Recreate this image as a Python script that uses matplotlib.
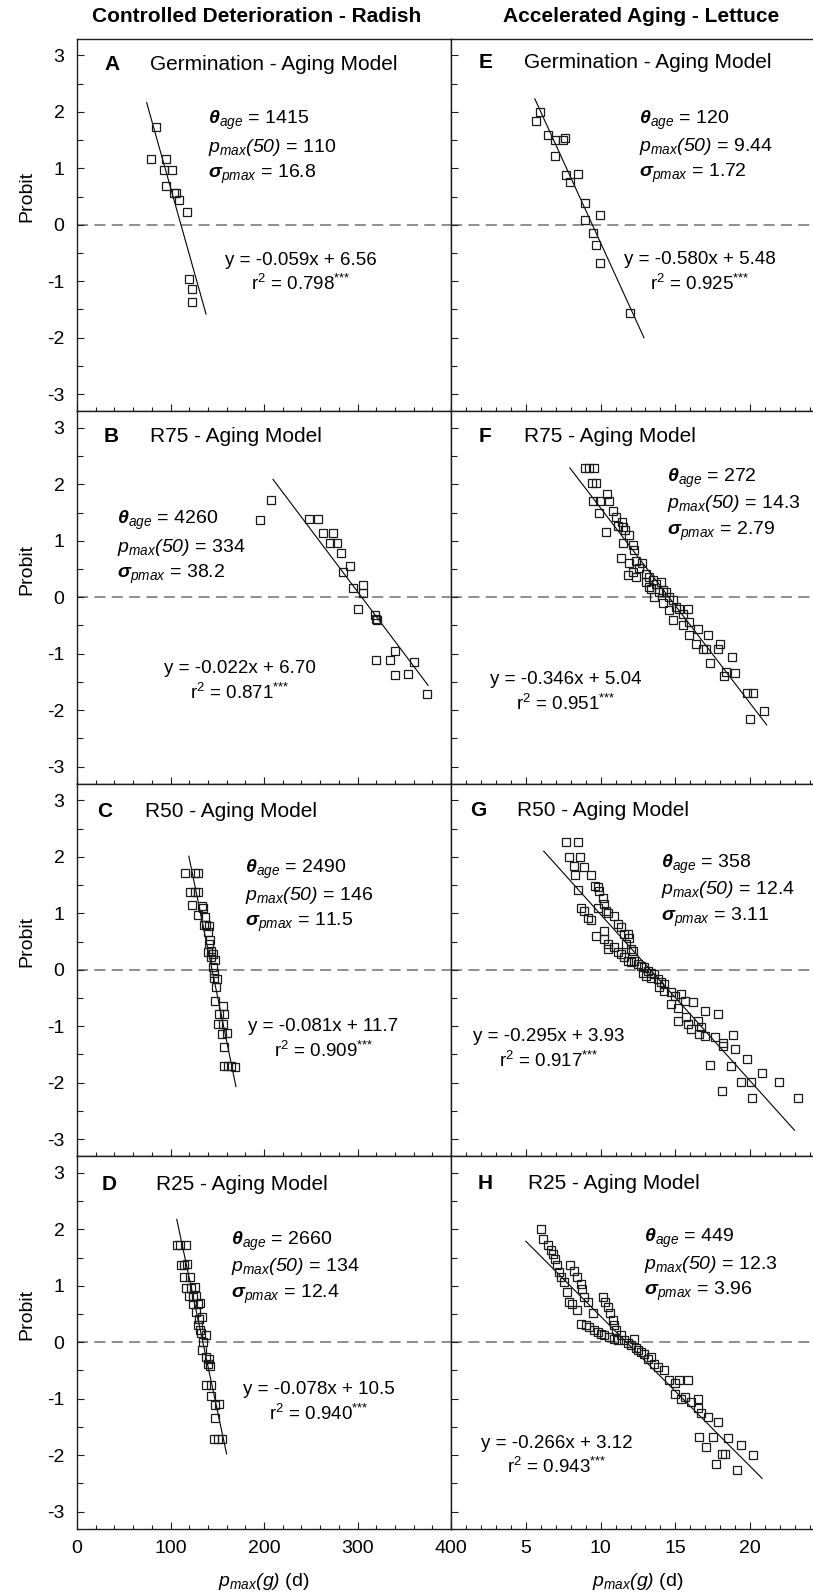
import matplotlib
matplotlib.use('Agg')
import matplotlib.pyplot as plt
import matplotlib.transforms as mtransforms
from matplotlib.ticker import MultipleLocator, FixedLocator
import numpy as np

plt.rcParams['font.family'] = ['Liberation Sans', 'DejaVu Sans']
plt.rcParams['mathtext.fontset'] = 'custom'
plt.rcParams['mathtext.rm'] = 'Liberation Sans'
plt.rcParams['mathtext.it'] = 'Liberation Sans:italic'
plt.rcParams['mathtext.sf'] = 'Liberation Sans:italic'
plt.rcParams['mathtext.bf'] = 'Liberation Sans:bold'
plt.rcParams['mathtext.bfit'] = 'Liberation Sans:italic:bold'
plt.rcParams['axes.unicode_minus'] = False
plt.rcParams['lines.scale_dashes'] = False

# ---------------- data ----------------
column_titles = ['Controlled Deterioration - Radish', 'Accelerated Aging - Lettuce']
panel_letters = ['A', 'B', 'C', 'D', 'E', 'F', 'G', 'H']
panel_titles = ['Germination - Aging Model', 'R75 - Aging Model', 'R50 - Aging Model', 'R25 - Aging Model',
                'Germination - Aging Model', 'R75 - Aging Model', 'R50 - Aging Model', 'R25 - Aging Model']

theta_age = ['1415', '4260', '2490', '2660', '120', '272', '358', '449']
pmax50 = ['110', '334', '146', '134', '9.44', '14.3', '12.4', '12.3']
sigma_pmax = ['16.8', '38.2', '11.5', '12.4', '1.72', '2.79', '3.11', '3.96']
slopes = [-0.059, -0.022, -0.081, -0.078, -0.580, -0.346, -0.295, -0.266]
intercepts = [6.56, 6.70, 11.7, 10.5, 5.48, 5.04, 3.93, 3.12]
intercept_labels = ['6.56', '6.70', '11.7', '10.5', '5.48', '5.04', '3.93', '3.12']
r_squared = ['0.798', '0.871', '0.909', '0.940', '0.925', '0.951', '0.917', '0.943']
fit_x_ranges = [(74.5, 138), (209.6, 375.5), (119.6, 170), (106.7, 160),
                (5.6, 12.9), (7.94, 21.1), (6.2, 22.96), (5.0, 20.8)]

left_xticks = [0, 100, 200, 300, 400]
right_xticks = [5, 10, 15, 20]
yticks = [-3, -2, -1, 0, 1, 2, 3]

a_x = [84.9, 78.8, 94.9, 93.1, 102.1, 94.9, 103.5, 105.6, 108.8, 117.8, 119.6, 123.1, 123.5]
a_y = [1.73, 1.16, 1.16, 0.97, 0.97, 0.69, 0.56, 0.56, 0.44, 0.22, -0.96, -1.13, -1.36]

b_x = [196.1, 207.5, 248.6, 257.6, 262.9, 273.6, 270.8, 278.6, 282.2, 291.5, 284.4, 295.1, 305.8,
       305.8, 300.5, 318.7, 320.9, 319.8, 339.7, 319.4, 335.1, 339.7, 353.7, 360.9, 374.5]
b_y = [1.37, 1.73, 1.39, 1.39, 1.13, 1.13, 0.97, 0.97, 0.78, 0.56, 0.44, 0.17, 0.21,
       0.07, -0.21, -0.32, -0.41, -0.38, -0.96, -1.12, -1.12, -1.37, -1.36, -1.14, -1.71]

c_x = [115.3, 126.0, 129.6, 120.6, 126.0, 129.6, 123.5, 133.2, 134.9, 128.9, 136.7, 136.0, 138.5,
       141.0, 139.6, 142.1, 141.4, 140.3, 143.8, 145.7, 142.8, 147.5, 145.7, 146.4, 146.4, 149.2,
       148.2, 147.8, 155.7, 152.1, 157.5, 151.0, 156.4, 154.6, 160.0, 157.1, 157.5, 161.0, 164.2, 168.9]
c_y = [1.72, 1.72, 1.71, 1.38, 1.38, 1.38, 1.15, 1.13, 1.10, 0.97, 0.94, 0.80, 0.80,
       0.78, 0.66, 0.53, 0.45, 0.32, 0.34, 0.28, 0.22, 0.17, 0.04, -0.05, -0.14, -0.17,
       -0.31, -0.55, -0.64, -0.78, -0.78, -0.96, -0.96, -1.14, -1.12, -1.37, -1.71, -1.71, -1.71, -1.73]

d_x = [107.4, 110.6, 116.4, 111.7, 114.2, 118.1, 114.6, 120.6, 117.1, 122.4, 126.0, 119.9, 124.2,
       127.8, 124.2, 129.6, 131.4, 127.8, 130.6, 133.2, 129.6, 131.4, 132.1, 137.8, 135.0, 134.2,
       138.5, 141.4, 139.6, 142.1, 138.5, 142.8, 143.2, 147.5, 152.1, 147.5, 146.4, 151.0, 154.6]
d_y = [1.73, 1.73, 1.73, 1.37, 1.37, 1.39, 1.16, 1.16, 0.97, 0.97, 0.98, 0.82, 0.80,
       0.82, 0.67, 0.67, 0.70, 0.54, 0.42, 0.45, 0.30, 0.21, 0.17, 0.12, 0.01, -0.14,
       -0.26, -0.29, -0.38, -0.42, -0.76, -0.76, -0.96, -1.12, -1.10, -1.35, -1.72, -1.72, -1.72]

e_x = [5.95, 5.71, 6.47, 6.98, 7.5, 7.65, 6.96, 7.72, 8.48, 7.94, 8.97, 9.93, 8.95, 9.46, 9.69, 9.93, 11.94]
e_y = [2.0, 1.84, 1.59, 1.5, 1.5, 1.54, 1.22, 0.88, 0.9, 0.75, 0.38, 0.18, 0.08, -0.15, -0.36, -0.68, -1.57]

f_x = [8.97, 9.24, 9.53, 9.42, 9.68, 10.42, 9.46, 9.95, 10.58, 9.86, 10.80, 11.03, 10.35, 11.14,
       11.43, 11.52, 11.65, 11.92, 11.47, 12.14, 12.25, 11.36, 11.92, 12.37, 12.77, 12.59, 12.14,
       11.81, 12.37, 13.04, 13.26, 13.48, 13.71, 13.04, 13.26, 14.04, 14.15, 13.37, 13.6, 13.93,
       14.38, 14.6, 14.15, 14.82, 15.05, 15.27, 15.87, 14.6, 15.49, 14.82, 15.94, 15.49, 16.5,
       17.17, 15.9, 16.39, 16.83, 17.06, 17.84, 17.95, 17.28, 18.8, 18.4, 18.96, 18.28, 19.78,
       20.18, 19.96, 20.92]
f_y = [2.29, 2.29, 2.29, 2.02, 2.02, 1.83, 1.71, 1.71, 1.71, 1.49, 1.53, 1.43, 1.15, 1.26,
       1.34, 1.25, 1.19, 1.10, 0.97, 0.92, 0.83, 0.69, 0.60, 0.64, 0.60, 0.51, 0.45,
       0.40, 0.36, 0.42, 0.36, 0.30, 0.24, 0.27, 0.18, 0.27, 0.12, 0.14, 0.01, 0.09,
       0.09, 0.01, -0.11, -0.05, -0.17, -0.20, -0.20, -0.23, -0.29, -0.41, -0.44, -0.50, -0.56,
       -0.67, -0.67, -0.82, -0.91, -0.91, -0.91, -0.82, -1.16, -1.05, -1.33, -1.34, -1.40, -1.70,
       -1.70, -2.16, -2.01]

g_x = [7.72, 8.50, 7.90, 8.63, 8.23, 8.9, 8.28, 9.35, 8.46, 9.62, 9.80, 9.91, 8.68, 8.9, 9.13,
       9.35, 9.80, 10.13, 10.24, 10.35, 10.47, 10.91, 9.69, 10.24, 10.24, 10.47, 10.91, 10.47,
       11.14, 11.36, 11.58, 11.81, 11.92, 11.7, 12.03, 12.14, 11.14, 11.36, 11.58, 11.81, 12.03,
       12.25, 12.48, 12.7, 12.92, 13.15, 13.37, 12.81, 13.04, 13.37, 13.59, 13.82, 14.04, 14.27,
       13.93, 14.27, 14.71, 14.94, 15.38, 14.71, 15.16, 15.61, 16.16, 16.95, 17.84, 15.16, 15.72,
       15.83, 16.05, 16.5, 16.72, 16.61, 16.95, 17.62, 18.18, 18.18, 18.85, 18.96, 17.28, 18.73,
       19.8, 20.79, 19.4, 20.07, 21.93, 18.11, 20.12, 23.2]
g_y = [2.27, 2.27, 2.0, 2.0, 1.84, 1.82, 1.68, 1.68, 1.41, 1.49, 1.47, 1.40, 1.09, 1.04, 0.91,
       0.88, 1.10, 1.28, 1.16, 1.04, 1.01, 0.96, 0.60, 0.69, 0.54, 0.45, 0.40, 0.37,
       0.81, 0.75, 0.63, 0.63, 0.57, 0.45, 0.37, 0.34, 0.31, 0.28, 0.22, 0.16, 0.13,
       0.16, 0.10, 0.07, 0.04, -0.02, -0.05, -0.05, -0.11, -0.14, -0.08, -0.17, -0.22, -0.25,
       -0.31, -0.37, -0.40, -0.46, -0.43, -0.61, -0.67, -0.55, -0.58, -0.73, -0.78, -0.90, -0.84,
       -0.96, -1.05, -0.90, -1.02, -1.14, -1.17, -1.20, -1.29, -1.35, -1.15, -1.40, -1.68, -1.70,
       -1.58, -1.83, -1.99, -1.99, -1.99, -2.15, -2.27, -2.27]

h_x = [6.04, 6.18, 6.49, 6.67, 6.83, 6.94, 7.07, 7.23, 7.34, 7.56, 7.74, 7.9, 8.12, 8.41,
       7.96, 8.23, 8.41, 8.68, 8.79, 8.9, 9.13, 9.46, 10.13, 10.29, 10.47, 10.65, 10.8, 10.91,
       11.03, 8.68, 9.02, 9.24, 9.57, 9.80, 10.02, 10.24, 10.58, 10.91, 11.14, 11.36, 11.58,
       11.81, 12.03, 12.25, 12.37, 12.48, 12.7, 12.92, 13.15, 13.37, 13.59, 13.82, 14.27, 14.6,
       14.94, 15.27, 15.83, 14.94, 15.38, 15.61, 16.05, 16.5, 16.5, 16.72, 17.17, 17.84, 16.61,
       17.06, 17.5, 18.51, 19.36, 20.18, 17.73, 18.11, 18.29, 19.14]
h_y = [2.01, 1.83, 1.72, 1.63, 1.57, 1.48, 1.36, 1.24, 1.16, 1.07, 0.89, 0.71, 0.68, 0.57,
       1.36, 1.27, 1.16, 1.04, 0.95, 0.80, 0.71, 0.51, 0.80, 0.71, 0.63, 0.51, 0.39, 0.30,
       0.21, 0.33, 0.30, 0.27, 0.21, 0.18, 0.15, 0.12, 0.09, 0.06, 0.04, 0.12, 0.04,
       -0.02, -0.05, 0.06, -0.11, -0.14, -0.17, -0.20, -0.29, -0.26, -0.38, -0.44, -0.50, -0.67,
       -0.73, -0.67, -0.67, -0.91, -1.0, -0.97, -1.06, -1.0, -1.17, -1.26, -1.32, -1.41, -1.68,
       -1.85, -1.68, -1.69, -1.82, -2.0, -2.15, -1.98, -1.98, -2.27]

series_x = [a_x, b_x, c_x, d_x, e_x, f_x, g_x, h_x]
series_y = [a_y, b_y, c_y, d_y, e_y, f_y, g_y, h_y]

# ---------------- layout (pixels) ----------------
W, H = 813, 1594
col_left = [77, 451]
ax_w = 374
row_top = [38.5, 411, 783.5, 1156]
ax_h = 372.5
xlims = [(0, 400), (0, 25)]

letter_x = [0.074, 0.072, 0.053, 0.067, 0.073, 0.073, 0.050, 0.070]
title_x = [0.196, 0.196, 0.181, 0.210, 0.195, 0.195, 0.177, 0.207]
title_y = [2.75, 2.75, 2.71, 2.70, 2.78, 2.75, 2.72, 2.71]
stats_x = [0.351, 0.107, 0.449, 0.413, 0.502, 0.577, 0.562, 0.517]
stats_y = [(1.78, 1.29, 0.82), (1.30, 0.80, 0.34), (1.72, 1.24, 0.77), (1.73, 1.26, 0.79),
           (1.79, 1.31, 0.84), (2.05, 1.58, 1.10), (1.81, 1.34, 0.87), (1.78, 1.30, 0.83)]
eq_x = [0.599, 0.436, 0.659, 0.647, 0.666, 0.306, 0.262, 0.284]
eq_y = [(-0.71, -1.15), (-1.34, -1.80), (-1.09, -1.55), (-0.91, -1.37),
        (-0.69, -1.15), (-1.53, -1.99), (-1.26, -1.72), (-1.87, -2.32)]

fig = plt.figure(figsize=(W / 100, H / 100), dpi=100)

spine_color = '#1e1e1e'
for i in range(8):
    col = i // 4
    row = i % 4
    l = col_left[col]
    t = row_top[row]
    ax = fig.add_axes([l / W, 1 - (t + ax_h) / H, ax_w / W, ax_h / H])
    ax.set_xlim(*xlims[col])
    ax.set_ylim(-3.3, 3.3)
    for s in ax.spines.values():
        s.set_color(spine_color)
        s.set_linewidth(1.0)

    ax.axhline(0, color='#707070', lw=1.1, dashes=(8, 4.5), zorder=1)

    xs = np.array(fit_x_ranges[i])
    ax.plot(xs, slopes[i] * xs + intercepts[i], color='black', lw=0.8, zorder=2)
    ax.plot(series_x[i], series_y[i], ls='none', marker='s', ms=6.4, mfc='none',
            mec='#1a1a1a', mew=0.9, zorder=3)

    ax.yaxis.set_major_locator(FixedLocator(yticks))
    ax.yaxis.set_minor_locator(MultipleLocator(0.5))
    if col == 0:
        ax.xaxis.set_major_locator(FixedLocator(left_xticks))
        ax.xaxis.set_minor_locator(MultipleLocator(20))
    else:
        ax.xaxis.set_major_locator(FixedLocator(right_xticks))
        ax.xaxis.set_minor_locator(MultipleLocator(1))
    ax.tick_params(which='both', direction='in', top=False, right=False,
                   color=spine_color, width=0.8)
    ax.tick_params(axis='y', which='major', length=5.2, labelsize=14, pad=9)
    ax.tick_params(axis='y', which='minor', length=4.0)
    ax.tick_params(axis='x', which='major', length=5.2, labelsize=14, pad=8)
    ax.tick_params(axis='x', which='minor', length=3.0)
    if col == 1:
        ax.tick_params(axis='y', labelleft=False)
    if row != 3:
        ax.tick_params(axis='x', labelbottom=False)

    trans = mtransforms.blended_transform_factory(ax.transAxes, ax.transData)
    ax.text(letter_x[i], title_y[i], panel_letters[i], transform=trans, fontsize=15,
            fontweight='bold', ha='left', va='baseline')
    ax.text(title_x[i], title_y[i], panel_titles[i], transform=trans, fontsize=15,
            ha='left', va='baseline')
    s_lines = [r'$\mathbfit{\theta}_{age}$ = ' + theta_age[i],
               r'$p_{max}\mathsf{(50)}$ = ' + pmax50[i],
               r'$\mathbfit{\sigma}_{pmax}$ = ' + sigma_pmax[i]]
    for k in range(3):
        ax.text(stats_x[i], stats_y[i][k], s_lines[k], transform=trans, fontsize=14,
                ha='left', va='baseline')
    ax.text(eq_x[i], eq_y[i][0], 'y = %.3fx + %s' % (slopes[i], intercept_labels[i]),
            transform=trans, fontsize=13.5, ha='center', va='baseline')
    ax.text(eq_x[i], eq_y[i][1], r'r$^2$ = ' + r_squared[i] + r'$^{\mathrm{{*}{*}{*}}}$',
            transform=trans, fontsize=13.5, ha='center', va='baseline')

    if col == 0:
        y_lab = ax.transData.transform((0, 0.5))[1]
        fig.text(27 / W, y_lab / H, 'Probit', rotation=90, fontsize=14,
                 ha='center', va='center')
    if row == 3:
        fig.text((l + ax_w / 2) / W, 1 - 1586 / H, r'$p_{max}\mathsf{(g)}$ (d)', fontsize=14,
                 ha='center', va='baseline')

fig.text(257 / W, 1 - 17 / H, column_titles[0], fontsize=15, fontweight='bold',
         ha='center', va='center')
fig.text(641 / W, 1 - 17 / H, column_titles[1], fontsize=15, fontweight='bold',
         ha='center', va='center')

fig.savefig('out.png', dpi=100)
